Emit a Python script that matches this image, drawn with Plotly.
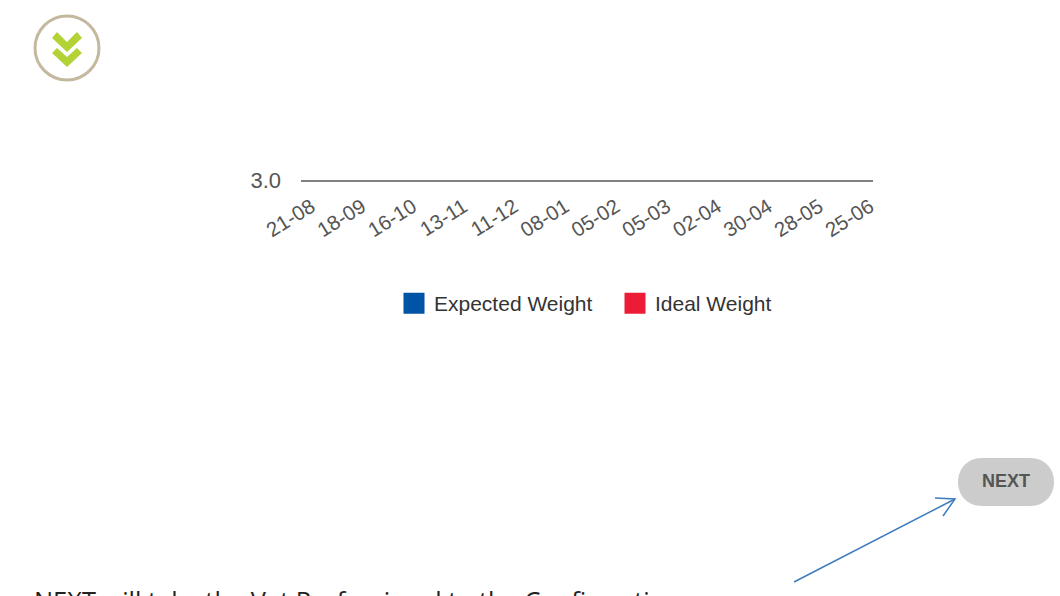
import plotly.graph_objects as go

categories = ["21-08", "18-09", "16-10", "13-11", "11-12", "08-01", "05-02", "05-03", "02-04", "30-04", "28-05", "25-06"]
expected_weight = [None] * 12
ideal_weight = [None] * 12
y_tick_values = [3.0]
y_tick_labels = ["3.0"]

W, H = 1060, 596
L, R, T, B = 301, 873, 100, 180


def px(x):
    return (x - L) / (R - L)


def py(y):
    return (B - y) / (B - T)


def poly(points, close=True):
    d = "M" + " L".join(f"{px(x):.5f},{py(y):.5f}" for x, y in points)
    return d + (" Z" if close else "")


shapes = [
    dict(type="circle", xref="paper", yref="paper", x0=px(35), x1=px(99), y0=py(80), y1=py(16),
         line=dict(color="#c4b99f", width=3), fillcolor="white", layer="above"),
    dict(type="path", xref="paper", yref="paper", fillcolor="#b2d235", line=dict(width=0),
         path=poly([(52, 38), (57, 32), (67, 42), (77, 32), (82, 38), (67, 52)])),
    dict(type="path", xref="paper", yref="paper", fillcolor="#b2d235", line=dict(width=0),
         path=poly([(52, 53), (57, 48), (67, 57), (77, 48), (82, 53), (67, 67)])),
    dict(type="path", xref="paper", yref="paper", fillcolor="#cccccc", line=dict(width=0),
         path=(f"M{px(982)},{py(458)} L{px(1030)},{py(458)} "
               f"C{px(1062)},{py(458)} {px(1062)},{py(506)} {px(1030)},{py(506)} "
               f"L{px(982)},{py(506)} "
               f"C{px(950)},{py(506)} {px(950)},{py(458)} {px(982)},{py(458)} Z")),
    dict(type="path", xref="paper", yref="paper", line=dict(color="#3f7cbf", width=1.5),
         path=poly([(794, 582), (955, 499)], close=False)),
    dict(type="path", xref="paper", yref="paper", line=dict(color="#3f7cbf", width=1.5),
         path=poly([(935, 498), (955, 499), (943, 516)], close=False)),
]

annotations = [
    dict(text="<b>NEXT</b>", xref="paper", yref="paper", x=px(1006), y=py(481), showarrow=False,
         xanchor="center", yanchor="middle",
         font=dict(family="Liberation Sans", size=18, color="#555555")),
    dict(text="NEXT will take the Vet Professional to the Confirmation", xref="paper", yref="paper",
         x=px(32), y=py(581), showarrow=False, xanchor="left", yanchor="top",
         font=dict(family="Open Sans", size=25.4, color="#222222")),
]

fig = go.Figure()
fig.add_trace(go.Scatter(x=categories, y=expected_weight, name="Expected Weight", mode="markers",
                         marker=dict(symbol="square", size=16, color="#0054a6",
                                     line=dict(color="#0054a6", width=5))))
fig.add_trace(go.Scatter(x=categories, y=ideal_weight, name="Ideal Weight", mode="markers",
                         marker=dict(symbol="square", size=16, color="#ed1c36",
                                     line=dict(color="#ed1c36", width=5))))

fig.update_layout(
    width=W, height=H, autosize=False,
    margin=dict(l=L, r=W - R, t=T, b=H - B, pad=0),
    paper_bgcolor="white", plot_bgcolor="white",
    font=dict(family="Liberation Sans", color="#444444"),
    shapes=shapes, annotations=annotations,
    showlegend=True,
    legend=dict(orientation="h", xref="paper", yref="paper", x=px(394), y=py(283),
                xanchor="left", yanchor="top", font=dict(size=21, color="#333333"),
                itemwidth=30, traceorder="normal", bgcolor="rgba(0,0,0,0)",
                entrywidth=176, entrywidthmode="pixels"),
    xaxis=dict(type="category", categoryorder="array",
               categoryarray=categories, tickangle=-32, range=[-0.2, 11.06],
               showgrid=False, zeroline=False, showline=True, linecolor="#808080", linewidth=2,
               ticks="", tickfont=dict(size=20.5, color="#555555"), automargin=False,
               ticklabelstandoff=5),
    yaxis=dict(range=[3.0, 3.5], tickmode="array", tickvals=y_tick_values, ticktext=y_tick_labels,
               showgrid=False, zeroline=False, showline=False, ticks="", ticklen=0,
               tickfont=dict(size=22, color="#555555"), automargin=False, ticklabelstandoff=19),
)

fig.write_html("out.html", config=dict(displayModeBar=False),
               post_script="document.body.style.margin='0';document.body.style.overflow='hidden';")
